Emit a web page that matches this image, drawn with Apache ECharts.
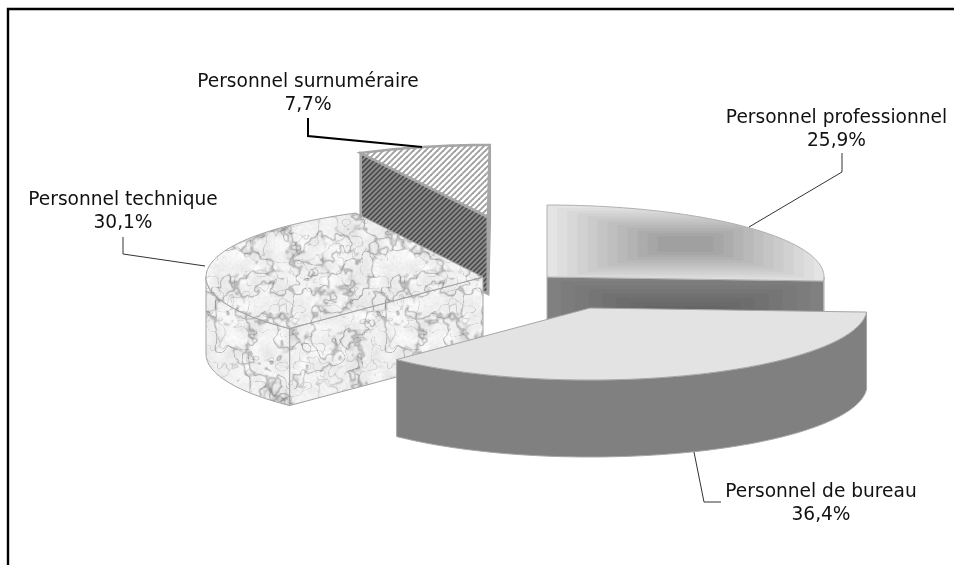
<!DOCTYPE html>
<html><head><meta charset="utf-8">
<style>html,body{margin:0;padding:0;background:#fff}#c{width:954px;height:565px}</style>
<script src="https://cdn.jsdelivr.net/npm/echarts@6/dist/echarts.min.js"></script>
</head><body><div id="c"></div>
<script>
// ---------- data ----------
const categories = ['Personnel professionnel','Personnel de bureau','Personnel technique','Personnel surnuméraire'];
const shares = [25.9, 36.4, 30.1, 7.7];

// ---------- layout of the projected, exploded pie ----------
const START_ANGLE = -90, RX = 277, RY = 72, DEPTH = 77;
const sliceCentres = [[547,277],[590,308],[483,277],[488,217]];
const drawOrder = [3,0,2,1];
const labelPos = [[836.5,130],[821,503.5],[123,211.5],[308,93.5]];
const leaders = [
  [[842,153],[842,172],[749,227]],
  [[694,452],[704,502],[721,502]],
  [[123,237],[123,254],[205,266]],
  [[308,118],[308,136],[422,147]]
];
const leaderWidth = [1,1,1,2];

// ---------- textures ----------
function mk(w,h){const c=document.createElement('canvas');c.width=w;c.height=h;return c;}
function hatch(bg,fg,lw,p){
  const c=mk(p,p),x=c.getContext('2d');x.fillStyle=bg;x.fillRect(0,0,p,p);
  x.strokeStyle=fg;x.lineWidth=lw;
  for(let i=-p;i<=2*p;i+=p){x.beginPath();x.moveTo(i-1,p+1);x.lineTo(i+p+1,-1);x.stroke();}
  return {image:c,repeat:'repeat'};
}
function marble(){
  const S=170,c=mk(S,S),x=c.getContext('2d'),im=x.createImageData(S,S);
  const h=(i,j,k)=>{const v=Math.sin(i*127.1+j*311.7+k*74.7)*43758.5453;return v-Math.floor(v);};
  const sm=t=>t*t*(3-2*t);
  function vn(px,py,per,k){
    const gx=px/S*per,gy=py/S*per,i=Math.floor(gx),j=Math.floor(gy),fx=sm(gx-i),fy=sm(gy-j);
    const g=(a,b)=>h((a%per+per)%per,(b%per+per)%per,k);
    return (g(i,j)*(1-fx)+g(i+1,j)*fx)*(1-fy)+(g(i,j+1)*(1-fx)+g(i+1,j+1)*fx)*fy;
  }
  for(let py=0;py<S;py++)for(let px=0;px<S;px++){
    const wob=vn(px,py,20,5)*12-6;
    const n1=vn(px+wob,py-wob,9,1)*.6+vn(px-wob,py+wob,18,2)*.28+vn(px,py,44,3)*.12;
    const n2=vn(px-wob,py-wob,12,4)*.62+vn(px+wob,py,26,6)*.38;
    const r1=Math.abs(n1-.5),r2=Math.abs(n2-.5);
    let v=250-vn(px,py,14,7)*20;
    v-=Math.pow(Math.max(0,1-r1/.07),1.6)*62;
    v-=Math.pow(Math.max(0,1-r2/.045),1.6)*36;
    v+=vn(px,py,85,8)*10-5;
    const p=(py*S+px)*4;
    im.data[p]=im.data[p+1]=im.data[p+2]=Math.max(130,Math.min(252,v));im.data[p+3]=255;
  }
  x.putImageData(im,0,0);
  return {image:c,repeat:'repeat'};
}
// banded rectangular "from centre" gradient over a bounding box
function rectGrad(x0,y0,x1,y1,edge,mid,n){
  const c=mk(954,565),x=c.getContext('2d'),cx=(x0+x1)/2,cy=(y0+y1)/2,hw=(x1-x0)/2,hh=(y1-y0)/2;
  for(let i=0;i<n;i++){
    const f=i/(n-1),g=1-0.8*i/(n-1),v=Math.round(edge+(mid-edge)*f);
    x.fillStyle='rgb('+v+','+v+','+v+')';
    x.fillRect(cx-hw*g,cy-hh*g,2*hw*g,2*hh*g);
  }
  return {image:c,repeat:'no-repeat'};
}
const marbleFill = marble();
const BOX = sliceCentres[0];
const faces = [
  {top:rectGrad(BOX[0],BOX[1]-RY,BOX[0]+RX,BOX[1]+6,228,160,12), side:rectGrad(BOX[0],BOX[1],BOX[0]+RX,BOX[1]+DEPTH+6,128,98,9), stroke:'#b0b0b0', lw:1},
  {top:'#e3e3e3', side:'#808080', stroke:'#a6a6a6', lw:1},
  {top:marbleFill, side:marbleFill, stroke:'#a3a3a3', lw:1},
  {top:hatch('#ffffff','#a0a0a0',1.9,6), side:hatch('#8a8a8a','#444444',1.5,5), stroke:'#a6a6a6', lw:2.6}
];

// ---------- angles from the shares ----------
const ranges=[];
shares.reduce((a,v)=>{const b=a+v*3.6;ranges.push([a,b]);return b;},START_ANGLE);
const rad=d=>d*Math.PI/180;

function renderItem(params,api){
  const i=params.dataIndex, value=api.value(0), [t1,t2]=ranges[i], [cx,cy]=sliceCentres[i];
  const pt=(t,dz)=>[cx+RX*Math.cos(rad(t)), cy+RY*Math.sin(rad(t))+(dz||0)];
  const arc=(a,b,dz)=>{const n=Math.max(2,Math.ceil(Math.abs(b-a)));const o=[];for(let k=0;k<=n;k++)o.push(pt(a+(b-a)*k/n,dz));return o;};
  const f=faces[i], base=(drawOrder.indexOf(i)+1)*10, kids=[];
  const poly=(points,fill,z)=>kids.push({type:'polygon',shape:{points},z2:base+z,
    style:{fill,stroke:f.stroke,lineWidth:f.lw,lineJoin:'miter'}});
  const radial=t=>{const p=pt(t);poly([[cx,cy],p,[p[0],p[1]+DEPTH],[cx,cy+DEPTH]],f.side,1);};
  if(Math.cos(rad(t1))<0) radial(t1);
  if(Math.cos(rad(t2))>0) radial(t2);
  const a=Math.max(t1,0), b=Math.min(t2,180);
  if(b>a) poly(arc(a,b,0).concat(arc(b,a,DEPTH)),f.side,2);
  poly([[cx,cy]].concat(arc(t1,t2,0)),f.top,3);
  kids.push({type:'polyline',shape:{points:leaders[i]},z2:100,silent:true,
    style:{fill:null,stroke:i===3?'#000':'#333',lineWidth:leaderWidth[i]}});
  kids.push({type:'text',z2:110,x:labelPos[i][0],y:labelPos[i][1],
    style:{text:categories[i]+'\n'+value.toFixed(1).replace('.',',')+'%',align:'center',verticalAlign:'middle',
      font:'18.6px "DejaVu Sans"',lineHeight:23,fill:'#111'}});
  return {type:'group',children:kids};
}

const chart=echarts.init(document.getElementById('c'),null,{renderer:'canvas',width:954,height:565});
chart.setOption({
  animation:false,
  backgroundColor:'#ffffff',
  graphic:[{type:'polyline',silent:true,shape:{points:[[8,566],[8,9],[955,9]]},style:{fill:null,stroke:'#000',lineWidth:2.4}}],
  series:[{type:'custom',coordinateSystem:'none',clip:false,renderItem,
    data:shares.map((v,i)=>({name:categories[i],value:[v]}))}]
});
</script></body></html>
